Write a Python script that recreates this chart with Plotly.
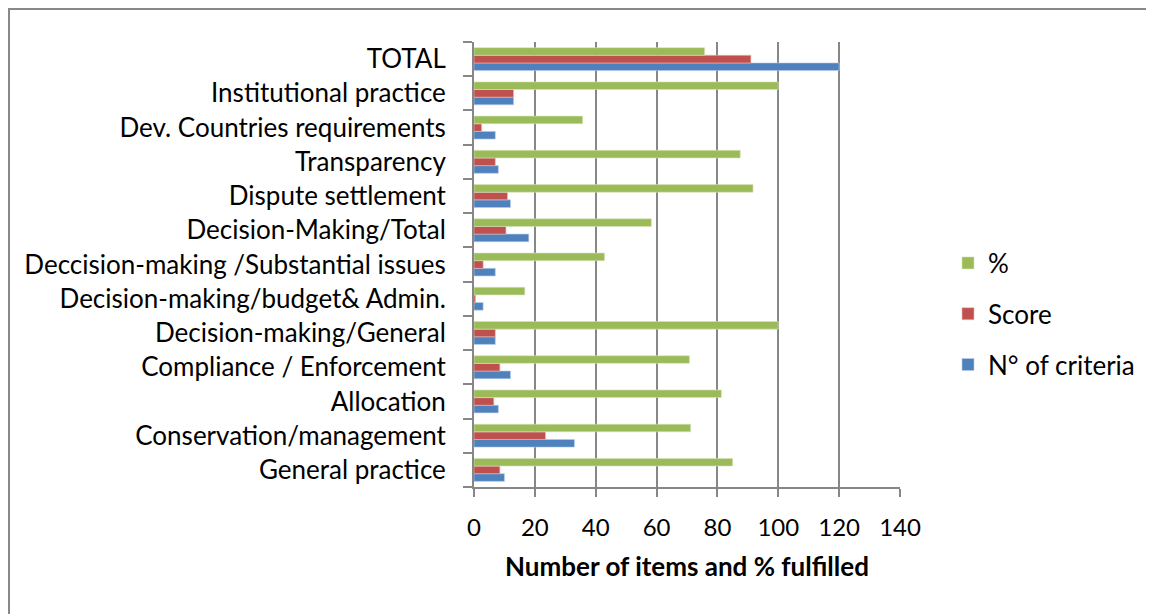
import plotly.graph_objects as go

categories = [
    "General practice",
    "Conservation/management",
    "Allocation",
    "Compliance / Enforcement",
    "Decision-making/General",
    "Decision-making/budget& Admin.",
    "Deccision-making /Substantial issues",
    "Decision-Making/Total",
    "Dispute settlement",
    "Transparency",
    "Dev. Countries requirements",
    "Institutional practice",
    "TOTAL",
]
n_criteria = [10, 33, 8, 12, 7, 3, 7, 18, 12, 8, 7, 13, 120]
score = [8.5, 23.5, 6.5, 8.5, 7, 0.5, 3, 10.5, 11, 7, 2.5, 13, 91]
percent = [85, 71.2, 81.3, 70.8, 100, 16.7, 42.9, 58.3, 91.7, 87.5, 35.7, 100, 75.8]

FONT = "Lato"
W, H = 1146, 606
L, R, T, B = 466, 892, 34, 479  # plot area in figure pixels
PW, PH = R - L, B - T

fig = go.Figure()
fig.add_trace(go.Bar(y=categories, x=n_criteria, name="N° of criteria", orientation="h",
                     marker=dict(color="#4F81BD", line=dict(color="#B9CDE5", width=0.6)),
                     legendgroup="a", legendrank=3))
fig.add_trace(go.Bar(y=categories, x=score, name="Score", orientation="h",
                     marker=dict(color="#C0504D", line=dict(color="#E6B9B8", width=0.6)),
                     legendgroup="b", legendrank=2))
fig.add_trace(go.Bar(y=categories, x=percent, name="%", orientation="h",
                     marker=dict(color="#9BBB59", line=dict(color="#D7E4BD", width=0.6)),
                     legendgroup="c", legendrank=1))

fig.update_layout(
    width=W, height=H,
    margin=dict(l=L, r=W - R, t=T, b=H - B),
    paper_bgcolor="white", plot_bgcolor="white",
    barmode="group", bargap=0.33, bargroupgap=0,
    font=dict(family=FONT, size=26, color="#000000"),
    legend=dict(traceorder="grouped", x=(940 - L) / PW, y=(B - 306) / PH,
                yanchor="middle", xanchor="left",
                font=dict(family=FONT, size=26), tracegroupgap=14, itemwidth=30,
                bgcolor="rgba(0,0,0,0)"),
    xaxis=dict(range=[0, 140], dtick=20, tick0=0, showgrid=True, gridcolor="#878787",
               gridwidth=2, showline=True, linecolor="#878787", linewidth=2,
               ticks="outside", ticklen=8, tickcolor="#878787", tickwidth=2,
               zeroline=False, tickfont=dict(family=FONT, size=24), ticklabelstandoff=10,
               title=dict(text="<b>Number of items and % fulfilled</b>",
                          font=dict(family=FONT, size=26), standoff=18)),
    yaxis=dict(type="category", showline=True, linecolor="#878787", linewidth=2,
               ticks="outside", ticklen=9, tickcolor="#878787", tickwidth=2,
               tickson="boundaries", showgrid=False, tickfont=dict(family=FONT, size=26),
               ticklabelstandoff=21),
    shapes=[dict(type="rect", xref="paper", yref="paper",
                 x0=(1 - L) / PW, x1=(W + 40 - L) / PW,
                 y0=(B - (H + 40)) / PH, y1=(B - 1) / PH,
                 line=dict(color="#888888", width=2), fillcolor="rgba(0,0,0,0)", layer="below")],
)

fig.write_html("out.html")
